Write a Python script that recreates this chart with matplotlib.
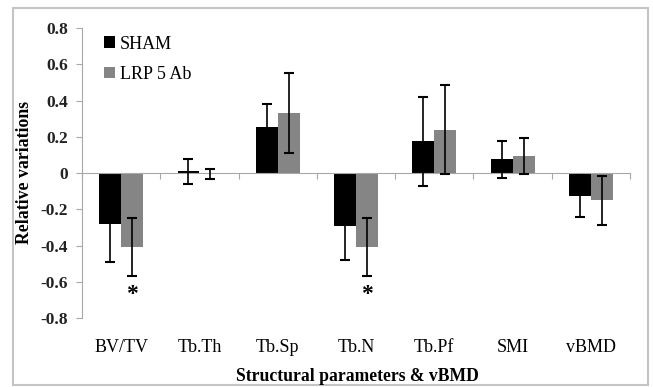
import matplotlib.pyplot as plt
import numpy as np
from matplotlib.patches import Rectangle
from matplotlib.transforms import blended_transform_factory

plt.rcParams['font.family'] = ['Liberation Serif', 'DejaVu Serif']

categories = ['BV/TV', 'Tb.Th', 'Tb.Sp', 'Tb.N', 'Tb.Pf', 'SMI', 'vBMD']
sham = [-0.28, 0.01, 0.255, -0.29, 0.175, 0.075, -0.125]
sham_err = [0.21, 0.07, 0.125, 0.19, 0.245, 0.10, 0.115]
lrp = [-0.41, -0.005, 0.33, -0.41, 0.24, 0.095, -0.15]
lrp_err = [0.16, 0.025, 0.22, 0.16, 0.245, 0.10, 0.135]
significant = [True, False, False, True, False, False, False]


def main():
    fig = plt.figure(figsize=(6.53, 3.87), dpi=100)
    ax = fig.add_axes([0.1256, 0.178, 0.8392, 0.7496])

    # outer grey frame like the original figure
    fig.patches.append(Rectangle((0.02, 0.005), 0.972, 0.975, transform=fig.transFigure,
                                 fill=False, edgecolor='#c4c4c4', linewidth=1.5))

    x = np.arange(len(categories))
    w = 0.28
    ax.bar(x - w / 2, sham, w, color='black', label='SHAM', zorder=2)
    ax.bar(x + w / 2, lrp, w, color='#858585', label='LRP 5 Ab', zorder=2)
    ax.errorbar(x - w / 2, sham, yerr=sham_err, fmt='none', ecolor='black',
                elinewidth=1.2, capsize=3.5, capthick=1.5, zorder=3)
    ax.errorbar(x + w / 2, lrp, yerr=lrp_err, fmt='none', ecolor='black',
                elinewidth=1.2, capsize=3.5, capthick=1.5, zorder=3)

    # significance stars
    for i, sig in enumerate(significant):
        if sig:
            ax.text(x[i] + w / 2, lrp[i] - lrp_err[i] - 0.13, '*', ha='center', va='baseline',
                    fontsize=17, fontweight='bold')

    ax.set_xlim(-0.5, len(categories) - 0.5)
    ax.set_ylim(-0.8, 0.8)
    ax.set_yticks(np.arange(-0.8, 0.81, 0.2))
    ax.set_yticklabels(['-0.8', '-0.6', '-0.4', '-0.2', '0', '0.2', '0.4', '0.6', '0.8'],
                       fontsize=12.5, fontweight='bold', color='#222222')

    # x axis line at zero with ticks at category borders
    ax.spines['bottom'].set_position(('data', 0))
    ax.spines['top'].set_visible(False)
    ax.spines['right'].set_visible(False)
    ax.spines['bottom'].set_color('#a8a8a8')
    ax.spines['left'].set_color('#a8a8a8')
    ax.set_xticks(np.arange(len(categories) + 1) - 0.5)
    ax.set_xticklabels([])
    ax.tick_params(axis='x', direction='out', length=4, color='#a8a8a8')
    ax.tick_params(axis='y', direction='out', length=4, color='#a8a8a8', pad=6)

    trans = blended_transform_factory(ax.transData, ax.transAxes)
    for i, name in enumerate(categories):
        ax.text(x[i], -0.1, name, transform=trans, ha='center', va='center', fontsize=13)

    fig.text(0.038, 0.553, 'Relative variations', rotation=90, ha='center', va='center',
             fontsize=12.8, fontweight='bold')
    fig.text(0.548, 0.026, 'Structural parameters & vBMD', ha='center', va='center',
             fontsize=12.7, fontweight='bold')

    ax.legend(loc='upper left', bbox_to_anchor=(0.01, 1.03), frameon=False, fontsize=13,
              handlelength=0.6, handleheight=0.6, handletextpad=0.3, labelspacing=0.75)

    fig.savefig('out.png', dpi=100)


if __name__ == "__main__":
    main()
